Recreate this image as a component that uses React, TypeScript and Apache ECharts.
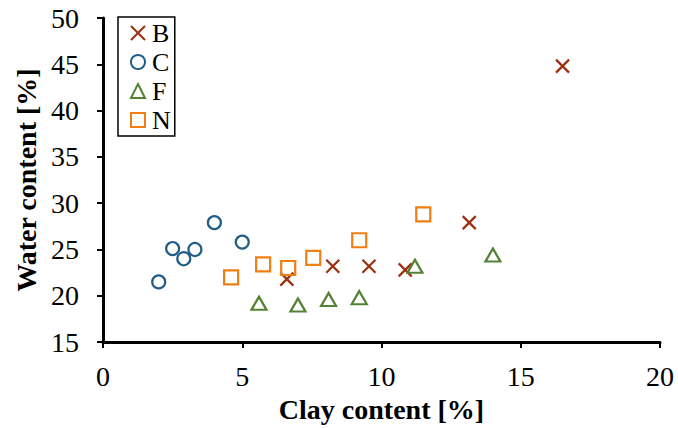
import React, { useEffect, useRef } from "react";
import * as echarts from "echarts";

const seriesNames = ["B", "C", "F", "N"];
const clayB = [6.6, 8.25, 9.55, 10.85, 13.15, 16.5];
const waterB = [21.8, 23.2, 23.2, 22.8, 27.9, 44.8];
const clayC = [2.0, 2.5, 2.9, 3.3, 4.0, 5.0];
const waterC = [21.5, 25.1, 24.0, 25.0, 27.9, 25.8];
const clayF = [5.6, 7.0, 8.1, 9.2, 11.2, 14.0];
const waterF = [19.2, 19.0, 19.6, 19.8, 23.2, 24.4];
const clayN = [4.6, 5.75, 6.65, 7.55, 9.2, 11.5];
const waterN = [22.0, 23.4, 23.0, 24.1, 26.0, 28.8];
const xTicks = [0, 5, 10, 15, 20];
const yTicks = [15, 20, 25, 30, 35, 40, 45, 50];

const FONT = "'Liberation Serif', 'Times New Roman', serif";

const pairs = (xs: number[], ys: number[]) => xs.map((x, i) => [x, ys[i]]);

export default function App() {
  const ref = useRef<HTMLDivElement>(null);
  useEffect(() => {
    if (!ref.current) return;
    const chart = echarts.init(ref.current, undefined, { renderer: "svg" });
    const mk = (
      name: string,
      xs: number[],
      ys: number[],
      color: string,
      symbol: string,
      size: number | number[]
    ) => ({
      name,
      type: "scatter",
      data: pairs(xs, ys),
      symbol,
      symbolSize: size,
      itemStyle: {
        color: "rgba(0,0,0,0)",
        borderColor: color,
        borderWidth: 2.2,
        opacity: 1,
      },
      emphasis: { disabled: true },
    });
    chart.setOption({
      animation: false,
      backgroundColor: "#fff",
      grid: { left: 103, right: 18, top: 18, bottom: 85 },
      legend: {
        data: seriesNames,
        orient: "vertical",
        left: 118,
        top: 17,
        padding: [3, 4, 3, 12],
        itemGap: 3,
        itemWidth: 14,
        itemHeight: 14,
        borderColor: "#000",
        borderWidth: 1.5,
        backgroundColor: "#fff",
        textStyle: { fontFamily: FONT, fontSize: 26, color: "#000", padding: [0, 0, 0, 2] },
      },
      xAxis: {
        type: "value",
        min: xTicks[0],
        max: xTicks[xTicks.length - 1],
        interval: 5,
        name: "Clay content [%]",
        nameLocation: "middle",
        nameGap: 50,
        nameTextStyle: { fontFamily: FONT, fontSize: 28, fontWeight: "bold", color: "#000" },
        axisLine: { lineStyle: { color: "#000", width: 3 } },
        axisTick: { length: 6, lineStyle: { color: "#000", width: 2 } },
        axisLabel: { fontFamily: FONT, fontSize: 28, color: "#000", margin: 20 },
        splitLine: { show: false },
      },
      yAxis: {
        type: "value",
        min: yTicks[0],
        max: yTicks[yTicks.length - 1],
        interval: 5,
        name: "Water content [%]",
        nameLocation: "middle",
        nameGap: 62,
        nameTextStyle: { fontFamily: FONT, fontSize: 28, fontWeight: "bold", color: "#000" },
        axisLine: { show: true, lineStyle: { color: "#000", width: 3 } },
        axisTick: { show: true, length: 6, lineStyle: { color: "#000", width: 2 } },
        axisLabel: { fontFamily: FONT, fontSize: 28, color: "#000", margin: 24 },
        splitLine: { show: false },
      },
      series: [
        mk("B", clayB, waterB, "#9C2F0E", "path://M0,0L10,10M10,0L0,10", 13),
        mk("C", clayC, waterC, "#215E87", "circle", 13),
        mk("F", clayF, waterF, "#548235", "triangle", [15, 13]),
        mk("N", clayN, waterN, "#EF7F12", "rect", 14),
      ],
    });
    return () => chart.dispose();
  }, []);
  return (
    <div
      ref={ref}
      style={{ position: "fixed", left: 0, top: 0, width: 678, height: 428, background: "#fff" }}
    />
  );
}
